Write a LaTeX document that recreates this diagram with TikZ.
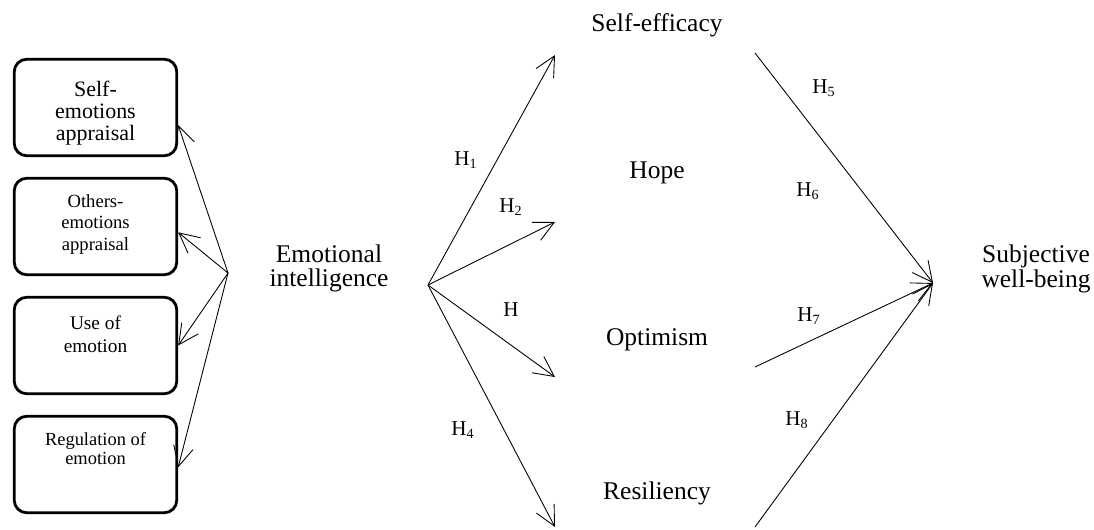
\documentclass[tikz,border=0pt]{standalone}
\usepackage{fontspec}
\setmainfont{Liberation Serif}
\usetikzlibrary{arrows.meta}
\tikzstyle{emobox}=[rectangle,rounded corners=0.25cm,minimum width=3.25cm,
minimum height=1.93cm,draw=black,line width=1.6pt]
\tikzstyle{boxtext}=[align=center,inner sep=0pt]
\tikzstyle{construct}=[align=center,inner sep=0pt,font=\fontsize{14.5}{13}\selectfont]
\tikzstyle{hyp}=[inner sep=0pt,font=\fontsize{12}{14}\selectfont]
\tikzstyle{arrow}=[line width=0.5pt,-{Straight Barb[length=4mm,width=4mm]}]

\begin{document}
\begin{tikzpicture}[node distance=2.38cm]
        \useasboundingbox (0,0) rectangle (21.88,10.58);

        \node (b1) [emobox,label={[boxtext,font=\fontsize{12.5}{12.4}\selectfont,yshift=-0.11cm]center:Self-\\emotions\\appraisal}] at (1.91,8.43) {};
        \node (b2) [emobox,below of=b1,label={[boxtext,font=\fontsize{10.6}{12.2}\selectfont,yshift=0.04cm]center:Others-\\emotions\\appraisal}] {};
        \node (b3) [emobox,below of=b2,label={[boxtext,font=\fontsize{11}{13}\selectfont,yshift=0.22cm]center:Use of\\emotion}] {};
        \node (b4) [emobox,below of=b3,label={[boxtext,font=\fontsize{10.5}{11}\selectfont,yshift=0.32cm]center:Regulation of\\emotion}] {};
        \coordinate (fan) at (4.56,5.12);

        \node (ei) [construct,font=\fontsize{14.5}{13.6}\selectfont] at (6.58,5.21) {Emotional\\intelligence};
        \coordinate (ei-out) at (8.56,4.88);

        \node (se) [construct] at (13.14,10.08) {Self-efficacy};
        \node (ho) [construct] at (13.14,7.12) {Hope};
        \node (op) [construct] at (13.14,3.78) {Optimism};
        \node (re) [construct] at (13.14,0.72) {Resiliency};
        \coordinate (se-in) at (11.10,9.48);
        \coordinate (ho-in) at (11.10,6.14);
        \coordinate (op-in) at (11.10,3.04);
        \coordinate (re-in) at (11.10,0.04);
        \coordinate (se-out) at (15.10,9.52);
        \coordinate (op-out) at (15.10,3.24);
        \coordinate (re-out) at (15.10,0.04);

        \node (swb) [construct,font=\fontsize{14.5}{13.9}\selectfont] at (20.72,5.20) {Subjective\\well-being};
        \coordinate (swb-in) at (18.66,4.92);

        \node (h1) [hyp] at (9.32,7.38) {H\textsubscript{1}};
        \node (h2) [hyp] at (10.22,6.44) {H\textsubscript{2}};
        \node (h3) [hyp] at (10.22,4.38) {H};
        \node (h4) [hyp] at (9.26,1.98) {H\textsubscript{4}};
        \node (h5) [hyp] at (16.48,8.82) {H\textsubscript{5}};
        \node (h6) [hyp] at (16.16,6.76) {H\textsubscript{6}};
        \node (h7) [hyp] at (16.18,4.26) {H\textsubscript{7}};
        \node (h8) [hyp] at (15.94,2.18) {H\textsubscript{8}};

        \draw [arrow] (fan) -- (b1.-12);
        \draw [arrow] (fan) -- (b2.-4);
        \draw [arrow] (fan) -- (b3.east);
        \draw [arrow] (fan) -- (b4.-2);

        \draw [arrow] (ei-out) -- (se-in);
        \draw [arrow] (ei-out) -- (ho-in);
        \draw [arrow] (ei-out) -- (op-in);
        \draw [arrow] (ei-out) -- (re-in);

        \draw [arrow] (se-out) -- (swb-in);
        \draw [arrow] (op-out) -- (swb-in);
        \draw [arrow] (re-out) -- (swb-in);

    \end{tikzpicture}
\end{document}
